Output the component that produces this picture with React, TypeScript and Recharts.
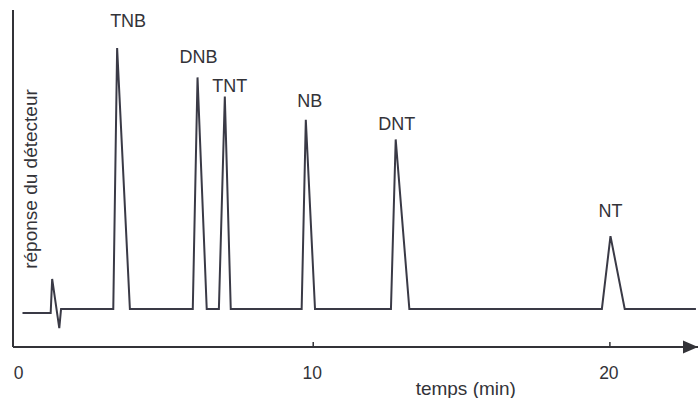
import React from 'react';
import { LineChart, Line, XAxis, YAxis, ReferenceDot } from 'recharts';

// retention time (min) and detector response (arbitrary units)
const times = [0.2, 1.15, 1.2, 1.44, 1.5, 3.26, 3.39, 3.82, 5.94, 6.1, 6.41, 6.82, 7.02, 7.22, 9.61, 9.75, 10.06, 12.62, 12.78, 13.24, 19.73, 20.02, 20.5, 22.9];
const response = [10.1, 10.1, 20.2, 5.6, 11.3, 11.3, 88.7, 11.3, 11.3, 80.0, 11.3, 11.3, 74.3, 11.3, 11.3, 67.4, 11.3, 11.3, 61.6, 11.3, 11.3, 32.9, 11.3, 11.3];

const peakNames = ['TNB', 'DNB', 'TNT', 'NB', 'DNT', 'NT'];
const peakTimes = [3.39, 6.1, 7.02, 9.75, 12.78, 20.02];
const peakHeights = [88.7, 80.0, 74.3, 67.4, 61.6, 32.9];

const xTicks = [0, 10, 20];
const xDomain: [number, number] = [-0.12, 22.97];

// label offsets (px) relative to peak apex – layout only
const labelOffsets = [
  { dx: 11, dy: -27 },
  { dx: 1, dy: -20 },
  { dx: 5, dy: -11 },
  { dx: 4, dy: -19 },
  { dx: 1, dy: -15 },
  { dx: 0, dy: -25 },
];

const data = times.map((t, i) => ({ t, r: response[i] }));

const FONT = '"Liberation Sans", Arial, Helvetica, sans-serif';
const INK = '#333338';

const XTick = (props: any) => {
  const { x, y, payload } = props;
  return (
    <g>
      {payload.value !== 0 && (
        <line x1={x} x2={x} y1={y} y2={y - 5} stroke={INK} strokeWidth={1.5} />
      )}
      <text x={x + (payload.value === 0 ? 2 : -1)} y={y + 26} textAnchor="middle" dominantBaseline="central" fontFamily={FONT} fontSize={17.5} fill={INK}>
        {payload.value}
      </text>
    </g>
  );
};

export default function App() {
  return (
    <div style={{ position: 'fixed', left: 0, top: 0, width: 699, height: 398, background: '#ffffff' }}>
      <LineChart width={699} height={398} data={data} margin={{ top: 10, right: 1, bottom: 0, left: 0 }}>
        <XAxis
          type="number"
          dataKey="t"
          domain={xDomain}
          allowDataOverflow
          ticks={xTicks}
          tick={<XTick />}
          tickLine={false}
          tickSize={0}
          tickMargin={0}
          height={51}
          axisLine={{ stroke: INK, strokeWidth: 2 }}
          label={{
            content: (p: any) => {
              const vb = p.viewBox || {};
              return (
                <text x={vb.x + vb.width * 0.661} y={vb.y + 41} textAnchor="middle" dominantBaseline="central" fontFamily={FONT} fontSize={19} fill={INK}>
                  temps (min)
                </text>
              );
            },
          }}
        />
        <YAxis
          type="number"
          domain={[0, 100]}
          allowDataOverflow
          tick={false}
          tickLine={false}
          width={13}
          axisLine={{ stroke: INK, strokeWidth: 2 }}
          label={{
            content: (p: any) => {
              const vb = p.viewBox || {};
              const cx = vb.x + vb.width + 18;
              const cy = vb.y + vb.height * 0.5015;
              return (
                <text x={cx} y={cy} transform={`rotate(-90, ${cx}, ${cy})`} textAnchor="middle" dominantBaseline="central" fontFamily={FONT} fontSize={19} fill={INK}>
                  réponse du détecteur
                </text>
              );
            },
          }}
        />
        <Line type="linear" dataKey="r" stroke="#3a3a46" strokeWidth={2} dot={false} isAnimationActive={false} strokeLinejoin="miter" />
        {peakNames.map((name, i) => (
          <ReferenceDot
            key={name}
            x={peakTimes[i]}
            y={peakHeights[i]}
            r={0}
            ifOverflow="visible"
            shape={(p: any) => (
              <text x={p.cx + labelOffsets[i].dx} y={p.cy + labelOffsets[i].dy} textAnchor="middle" dominantBaseline="central" fontFamily={FONT} fontSize={18} fill={INK}>
                {name}
              </text>
            )}
          />
        ))}
        <ReferenceDot
          x={xDomain[1]}
          y={0}
          r={0}
          ifOverflow="visible"
          shape={(p: any) => (
            <polygon points={`${p.cx},${p.cy} ${p.cx - 15},${p.cy - 6.5} ${p.cx - 15},${p.cy + 6.5}`} fill={INK} />
          )}
        />
      </LineChart>
    </div>
  );
}
